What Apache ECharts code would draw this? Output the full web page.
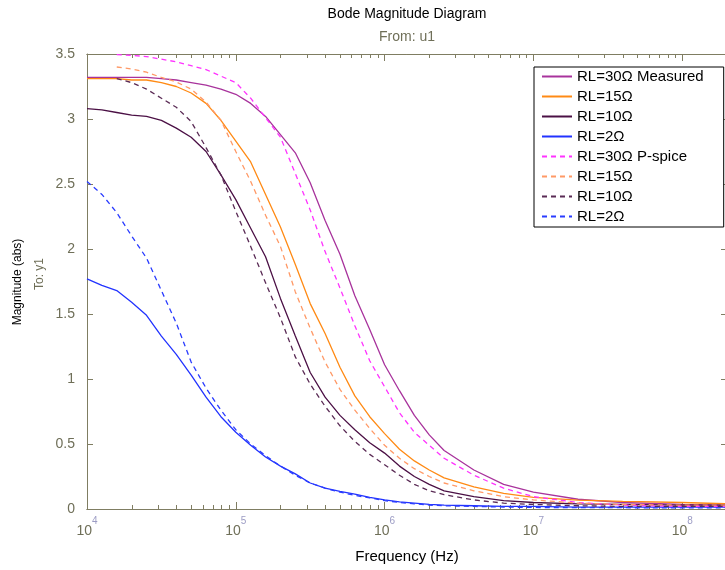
<!DOCTYPE html>
<html>
<head>
<meta charset="utf-8">
<script src="https://cdn.jsdelivr.net/npm/echarts@6/dist/echarts.min.js"></script>
<style>
  html, body { margin: 0; padding: 0; background: #ffffff; }
  #chart { width: 725px; height: 570px; }
</style>
</head>
<body>
<div id="chart"></div>
<script>
// Frequency points (Hz) shared by every response curve
const freqHz = [1e4, 12589, 15849, 19953, 25119, 31623, 39811, 50119, 63096, 79433,
  1e5, 125893, 158489, 199526, 251189, 316228, 398107, 501187, 630957, 794328,
  1e6, 1258925, 1584893, 1995262, 2511886, 3981072, 6309573, 1e7, 19952623, 39810717, 1e8, 2e8];

// Measured magnitude (abs) for each load resistance
const rl30Measured = [3.32, 3.32, 3.32, 3.32, 3.32, 3.31, 3.30, 3.28, 3.26, 3.23,
  3.19, 3.12, 3.02, 2.88, 2.74, 2.51, 2.22, 1.96, 1.64, 1.38,
  1.11, 0.91, 0.72, 0.57, 0.45, 0.30, 0.19, 0.13, 0.075, 0.05, 0.035, 0.03];
const rl15Measured = [3.31, 3.31, 3.31, 3.30, 3.30, 3.28, 3.25, 3.20, 3.12, 2.99,
  2.83, 2.67, 2.42, 2.17, 1.88, 1.58, 1.35, 1.09, 0.87, 0.71,
  0.58, 0.46, 0.37, 0.30, 0.24, 0.17, 0.12, 0.09, 0.068, 0.058, 0.05, 0.04];
const rl10Measured = [3.08, 3.07, 3.05, 3.03, 3.02, 2.99, 2.93, 2.86, 2.75, 2.57,
  2.38, 2.16, 1.94, 1.62, 1.33, 1.05, 0.86, 0.72, 0.61, 0.51,
  0.43, 0.33, 0.25, 0.19, 0.14, 0.095, 0.065, 0.05, 0.04, 0.035, 0.03, 0.03];
const rl2Measured = [1.77, 1.72, 1.68, 1.59, 1.49, 1.33, 1.19, 1.03, 0.86, 0.71,
  0.59, 0.49, 0.40, 0.33, 0.27, 0.20, 0.16, 0.135, 0.115, 0.09,
  0.07, 0.055, 0.045, 0.035, 0.03, 0.025, 0.02, 0.02, 0.015, 0.015, 0.015, 0.015];

// P-spice simulated magnitude (abs); null where the simulation has no point
const rl30Pspice = [null, null, 3.495, 3.49, 3.48, 3.46, 3.44, 3.41, 3.38, 3.33,
  3.28, 3.16, 3.01, 2.86, 2.58, 2.30, 1.98, 1.70, 1.41, 1.14,
  0.94, 0.74, 0.59, 0.49, 0.39, 0.26, 0.16, 0.095, 0.05, 0.03, 0.02, 0.02];
const rl15Pspice = [null, null, 3.40, 3.385, 3.36, 3.32, 3.285, 3.23, 3.13, 2.99,
  2.75, 2.52, 2.26, 2.02, 1.67, 1.39, 1.13, 0.92, 0.76, 0.62,
  0.49, 0.39, 0.31, 0.25, 0.20, 0.14, 0.095, 0.07, 0.045, 0.035, 0.03, 0.03];
const rl10Pspice = [null, null, 3.31, 3.28, 3.23, 3.16, 3.09, 2.98, 2.78, 2.57,
  2.29, 2.02, 1.74, 1.47, 1.17, 0.96, 0.79, 0.64, 0.52, 0.42,
  0.34, 0.26, 0.19, 0.14, 0.11, 0.07, 0.045, 0.035, 0.025, 0.02, 0.02, 0.02];
const rl2Pspice = [2.52, 2.42, 2.28, 2.10, 1.93, 1.68, 1.43, 1.13, 0.93, 0.76,
  0.61, 0.50, 0.41, 0.33, 0.26, 0.20, 0.16, 0.13, 0.105, 0.085,
  0.065, 0.05, 0.04, 0.03, 0.025, 0.02, 0.015, 0.012, 0.01, 0.01, 0.008, 0.008];

// Axis ticks and legend text
const decadeTicks = [1e4, 1e5, 1e6, 1e7, 1e8];
const legendLabels = ['RL=30Ω Measured', 'RL=15Ω', 'RL=10Ω', 'RL=2Ω',
  'RL=30Ω P-spice', 'RL=15Ω', 'RL=10Ω', 'RL=2Ω'];

// Minor ticks at 2..9 within each decade
const minorTicks = [];
decadeTicks.forEach(d => { for (let k = 2; k <= 9; k++) minorTicks.push(k * d); });

const FONT = "'Liberation Sans', Arial, Helvetica, sans-serif";
const AXIS_COLOR = '#7f7d62';
const LABEL_COLOR = '#6f6f58';

const curves = [
  { id: 'meas30', values: rl30Measured, color: '#a8339c', dash: 'solid' },
  { id: 'meas15', values: rl15Measured, color: '#ff8a14', dash: 'solid' },
  { id: 'meas10', values: rl10Measured, color: '#4b1045', dash: 'solid' },
  { id: 'meas2',  values: rl2Measured,  color: '#2233ff', dash: 'solid' },
  { id: 'sim30',  values: rl30Pspice,   color: '#ff33ff', dash: [5, 4] },
  { id: 'sim15',  values: rl15Pspice,   color: '#ff9966', dash: [5, 4] },
  { id: 'sim10',  values: rl10Pspice,   color: '#5a2b55', dash: [5, 4] },
  { id: 'sim2',   values: rl2Pspice,    color: '#2a3cff', dash: [5, 4] }
];
const labelById = {};
curves.forEach((c, i) => { labelById[c.id] = legendLabels[i]; });

const axisLine = { show: true, onZero: false, lineStyle: { color: AXIS_COLOR, width: 1 } };

function freqAxis(position, ticks, len, withLabels) {
  const ax = {
    type: 'log', logBase: 10, min: 1e4, max: 2e8, gridIndex: 0, position: position,
    axisLine: axisLine,
    axisTick: { show: true, inside: true, length: len, customValues: ticks,
      lineStyle: { color: AXIS_COLOR, width: 1 } },
    axisLabel: { show: false },
    splitLine: { show: false },
    minorTick: { show: false }
  };
  if (withLabels) {
    ax.axisLabel = {
      show: true, customValues: decadeTicks, margin: 7,
      formatter: v => '{b|10}{e|' + Math.round(Math.log10(v)) + '}',
      rich: {
        b: { fontSize: 14, fontFamily: FONT, color: LABEL_COLOR, lineHeight: 22, verticalAlign: 'bottom' },
        e: { fontSize: 10, fontFamily: FONT, color: '#9c9cc4', lineHeight: 22, verticalAlign: 'top' }
      }
    };
    ax.name = 'Frequency (Hz)';
    ax.nameLocation = 'middle';
    ax.nameGap = 40;
    ax.nameTextStyle = { color: '#000', fontSize: 15, fontFamily: FONT };
  }
  return ax;
}

function magAxis(position, withLabels) {
  return {
    type: 'value', min: 0, max: 3.5, interval: 0.5, position: position, gridIndex: 0,
    axisLine: axisLine,
    axisTick: { show: true, inside: true, length: 6, lineStyle: { color: AXIS_COLOR, width: 1 } },
    axisLabel: { show: withLabels, color: LABEL_COLOR, fontSize: 14, fontFamily: FONT, margin: 12 },
    splitLine: { show: false }
  };
}

const chart = echarts.init(document.getElementById('chart'), null, { renderer: 'canvas' });
chart.setOption({
  animation: false,
  backgroundColor: '#ffffff',
  grid: { left: 87, top: 54, right: -2, bottom: 61, containLabel: false, outerBoundsMode: 'none' },
  xAxis: [
    freqAxis('bottom', decadeTicks, 7, true),
    freqAxis('bottom', minorTicks, 4, false),
    freqAxis('top', decadeTicks, 7, false),
    freqAxis('top', minorTicks, 4, false)
  ],
  yAxis: [magAxis('left', true), magAxis('right', false)],
  legend: {
    orient: 'vertical', left: 534, top: 67,
    itemWidth: 30, itemHeight: 14, itemGap: 5,
    padding: [2, 20, 3, 7],
    backgroundColor: '#ffffff', borderColor: '#000000', borderWidth: 1, borderRadius: 0,
    selectedMode: false,
    itemStyle: { opacity: 0 },
    textStyle: { color: '#000000', fontSize: 15, fontFamily: FONT },
    formatter: name => labelById[name],
    data: curves.map(c => c.id)
  },
  graphic: [
    { type: 'text', x: 407, y: 14, silent: true,
      style: { text: 'Bode Magnitude Diagram', fill: '#000', font: '14px ' + FONT,
        textAlign: 'center', textVerticalAlign: 'middle' } },
    { type: 'text', x: 407, y: 37, silent: true,
      style: { text: 'From: u1', fill: LABEL_COLOR, font: '14px ' + FONT,
        textAlign: 'center', textVerticalAlign: 'middle' } },
    { type: 'text', x: 18, y: 282, rotation: Math.PI / 2, silent: true,
      style: { text: 'Magnitude (abs)', fill: '#000', font: '12px ' + FONT,
        textAlign: 'center', textVerticalAlign: 'middle' } },
    { type: 'text', x: 40, y: 274, rotation: Math.PI / 2, silent: true,
      style: { text: 'To: y1', fill: LABEL_COLOR, font: '12px ' + FONT,
        textAlign: 'center', textVerticalAlign: 'middle' } }
  ],
  series: curves.map(c => ({
    type: 'line', name: c.id, xAxisIndex: 0, yAxisIndex: 0,
    symbol: 'none', showSymbol: false, smooth: false, clip: true, connectNulls: false,
    lineStyle: { color: c.color, width: 1.3, type: c.dash },
    itemStyle: { color: c.color },
    emphasis: { disabled: true },
    data: freqHz.map((f, i) => [f, c.values[i]])
  }))
});
</script>
</body>
</html>
